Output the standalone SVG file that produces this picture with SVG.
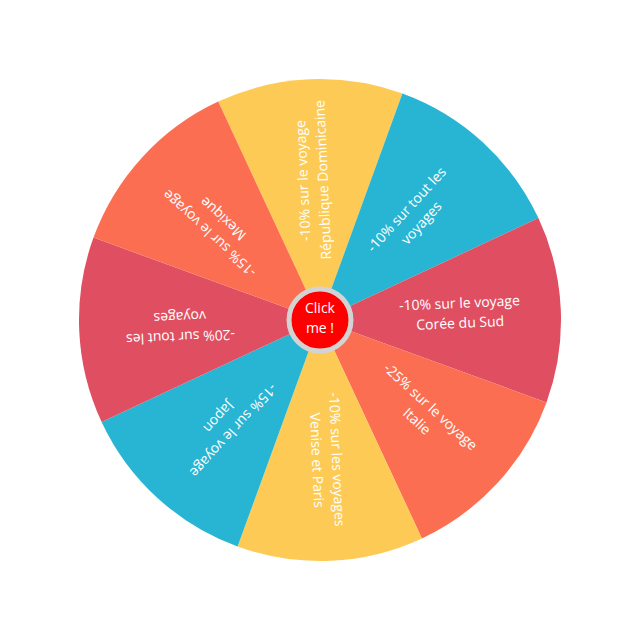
<svg xmlns="http://www.w3.org/2000/svg" width="640" height="640" viewBox="0 0 640 640">
<style>
.t{font-family:"Open Sans","Liberation Sans",sans-serif;font-size:14px;fill:#fff;text-anchor:middle}
.y{fill:#FDCB55}.b{fill:#27B5D3}.r{fill:#DF4F61}.o{fill:#FC6E51}
</style>
<rect width="640" height="640" fill="#fff"/>
<g id="wheel">
<g id="seg1"><path class="y" d="M320,320 L218.2,101.6 A241,241 0 0 1 402.4,93.5 Z"/>
<text class="t" transform="rotate(-92.5 320 320)"><tspan x="460" y="314">-10% sur le voyage</tspan><tspan x="460" y="334">République Dominicaine</tspan></text></g>
<g id="seg2"><path class="b" d="M320,320 L402.4,93.5 A241,241 0 0 1 538.4,218.1 Z"/>
<text class="t" transform="rotate(-47.5 320 320)"><tspan x="460" y="314">-10% sur tout les</tspan><tspan x="460" y="334">voyages</tspan></text></g>
<g id="seg3"><path class="r" d="M320,320 L538.4,218.1 A241,241 0 0 1 546.5,402.4 Z"/>
<text class="t" transform="rotate(-2.5 320 320)"><tspan x="460" y="314">-10% sur le voyage</tspan><tspan x="460" y="334">Corée du Sud</tspan></text></g>
<g id="seg4"><path class="o" d="M320,320 L546.5,402.4 A241,241 0 0 1 421.9,538.4 Z"/>
<text class="t" transform="rotate(42.5 320 320)"><tspan x="460" y="314">-25% sur le voyage</tspan><tspan x="460" y="334">Italie</tspan></text></g>
<g id="seg5"><path class="y" d="M320,320 L421.9,538.4 A241,241 0 0 1 237.6,546.5 Z"/>
<text class="t" transform="rotate(87.5 320 320)"><tspan x="460" y="314">-10% sur les voyages</tspan><tspan x="460" y="334">Venise et Paris</tspan></text></g>
<g id="seg6"><path class="b" d="M320,320 L237.6,546.5 A241,241 0 0 1 101.6,421.9 Z"/>
<text class="t" transform="rotate(132.5 320 320)"><tspan x="460" y="314">-15% sur le voyage</tspan><tspan x="460" y="334">Japon</tspan></text></g>
<g id="seg7"><path class="r" d="M320,320 L101.6,421.9 A241,241 0 0 1 93.5,237.6 Z"/>
<text class="t" transform="rotate(177.5 320 320)"><tspan x="460" y="314">-20% sur tout les</tspan><tspan x="460" y="334">voyages</tspan></text></g>
<g id="seg8"><path class="o" d="M320,320 L93.5,237.6 A241,241 0 0 1 218.2,101.6 Z"/>
<text class="t" transform="rotate(222.5 320 320)"><tspan x="460" y="314">-15% sur le voyage</tspan><tspan x="460" y="334">Mexique</tspan></text></g>
</g>
<g id="center">
<circle cx="320" cy="320" r="31" fill="#FF0000" stroke="#D3D3D3" stroke-width="5"/>
<text class="t" x="320" y="313">Click</text>
<text class="t" x="320" y="333">me !</text>
</g>
</svg>
